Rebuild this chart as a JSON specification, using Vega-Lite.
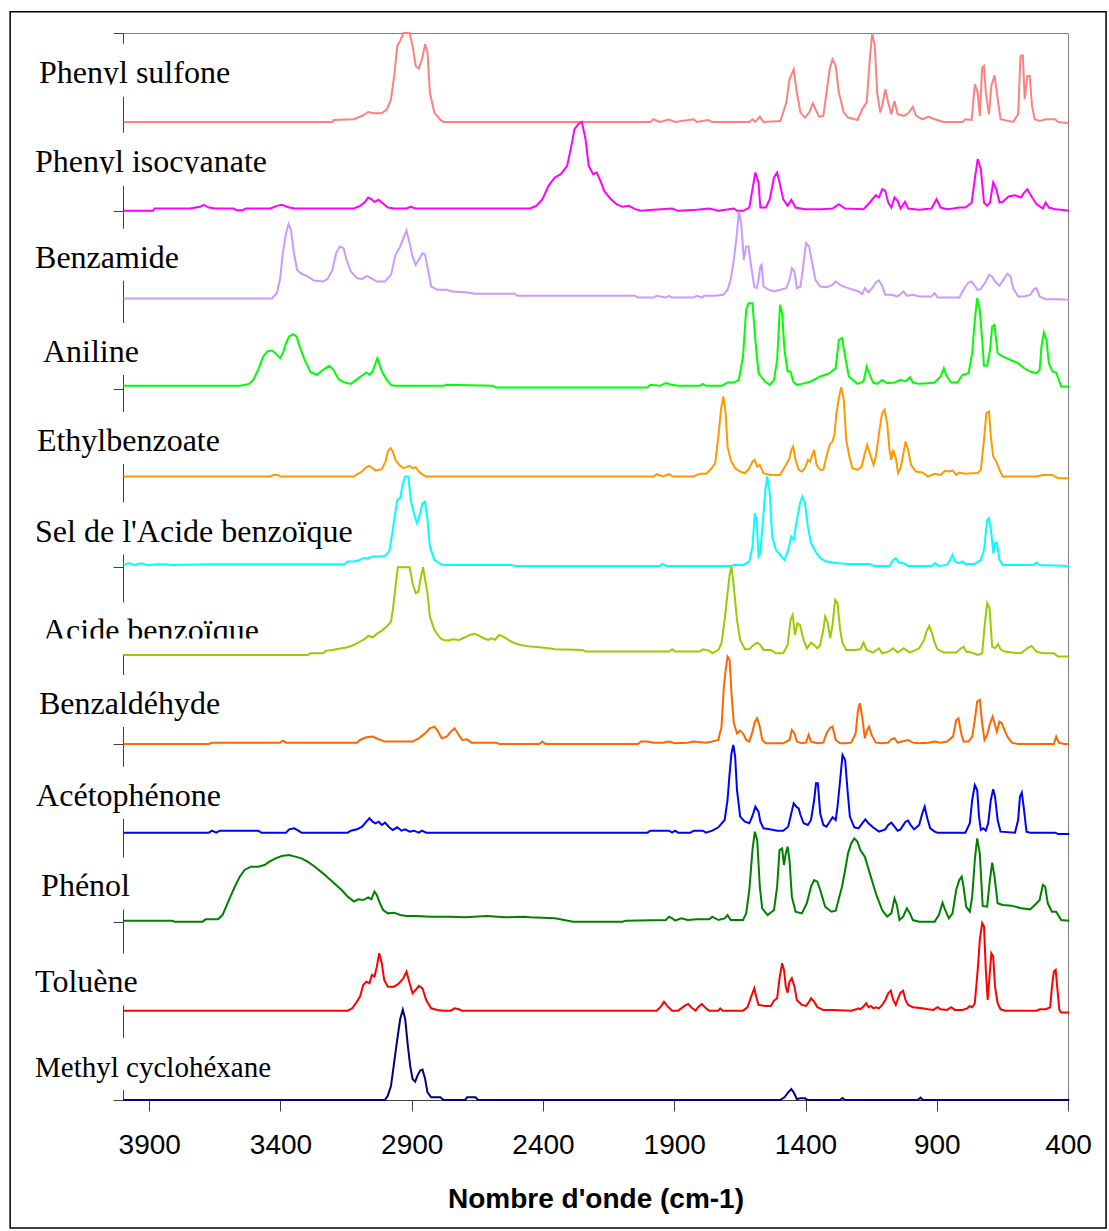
{
"$schema":"https://vega.github.io/schema/vega-lite/v6.json",
"width":945,"height":1067,
"autosize":{"type":"none"},
"padding":{"left":123,"top":33,"right":41,"bottom":131},
"background":"white",
"config":{"view":{"stroke":"#808080","strokeWidth":1}},
"datasets":{
"labels":[
{"name":"Phenyl sulfone","wn":4320,"abs":11.44},
{"name":"Phenyl isocyanate","wn":4335,"abs":10.44},
{"name":"Benzamide","wn":4335,"abs":9.36},
{"name":"Aniline","wn":4305,"abs":8.30},
{"name":"Ethylbenzoate","wn":4328,"abs":7.30},
{"name":"Sel de l'Acide benzoïque","wn":4335,"abs":6.28},
{"name":"Acide benzoïque","wn":4305,"abs":5.157},
{"name":"Benzaldéhyde","wn":4320,"abs":4.34},
{"name":"Acétophénone","wn":4331,"abs":3.31},
{"name":"Phénol","wn":4312,"abs":2.29},
{"name":"Toluène","wn":4335,"abs":1.21},
{"name":"Methyl cyclohéxane","wn":4335,"abs":0.26}
],
"spectra":[
{"name":"sulfone","wn":3998,"abs":11.0},{"name":"sulfone","wn":3202,"abs":11.0},{"name":"sulfone","wn":3198,"abs":11.022},{"name":"sulfone","wn":3120,"abs":11.03},{"name":"sulfone","wn":3085,"abs":11.075},{"name":"sulfone","wn":3066,"abs":11.112},{"name":"sulfone","wn":3042,"abs":11.097},{"name":"sulfone","wn":3014,"abs":11.097},{"name":"sulfone","wn":2995,"abs":11.142},{"name":"sulfone","wn":2979,"abs":11.255},{"name":"sulfone","wn":2967,"abs":11.517},{"name":"sulfone","wn":2955,"abs":11.855},{"name":"sulfone","wn":2944,"abs":11.911},{"name":"sulfone","wn":2932,"abs":12.0},{"name":"sulfone","wn":2908,"abs":12.0},{"name":"sulfone","wn":2897,"abs":11.855},{"name":"sulfone","wn":2885,"abs":11.63},{"name":"sulfone","wn":2873,"abs":11.6},{"name":"sulfone","wn":2861,"abs":11.705},{"name":"sulfone","wn":2849,"abs":11.874},{"name":"sulfone","wn":2840,"abs":11.78},{"name":"sulfone","wn":2831,"abs":11.33},{"name":"sulfone","wn":2814,"abs":11.105},{"name":"sulfone","wn":2791,"abs":11.022},{"name":"sulfone","wn":2779,"abs":11.0},{"name":"sulfone","wn":1991,"abs":11.0},{"name":"sulfone","wn":1979,"abs":11.03},{"name":"sulfone","wn":1955,"abs":11.0},{"name":"sulfone","wn":1920,"abs":11.026},{"name":"sulfone","wn":1897,"abs":11.0},{"name":"sulfone","wn":1826,"abs":11.03},{"name":"sulfone","wn":1814,"abs":11.0},{"name":"sulfone","wn":1772,"abs":11.022},{"name":"sulfone","wn":1755,"abs":11.0},{"name":"sulfone","wn":1614,"abs":11.0},{"name":"sulfone","wn":1602,"abs":11.03},{"name":"sulfone","wn":1591,"abs":11.0},{"name":"sulfone","wn":1574,"abs":11.06},{"name":"sulfone","wn":1560,"abs":11.0},{"name":"sulfone","wn":1496,"abs":11.011},{"name":"sulfone","wn":1473,"abs":11.217},{"name":"sulfone","wn":1461,"abs":11.48},{"name":"sulfone","wn":1445,"abs":11.592},{"name":"sulfone","wn":1433,"abs":11.33},{"name":"sulfone","wn":1419,"abs":11.105},{"name":"sulfone","wn":1402,"abs":11.049},{"name":"sulfone","wn":1386,"abs":11.105},{"name":"sulfone","wn":1372,"abs":11.21},{"name":"sulfone","wn":1362,"abs":11.142},{"name":"sulfone","wn":1348,"abs":11.06},{"name":"sulfone","wn":1332,"abs":11.067},{"name":"sulfone","wn":1320,"abs":11.33},{"name":"sulfone","wn":1308,"abs":11.592},{"name":"sulfone","wn":1297,"abs":11.705},{"name":"sulfone","wn":1285,"abs":11.63},{"name":"sulfone","wn":1273,"abs":11.33},{"name":"sulfone","wn":1254,"abs":11.105},{"name":"sulfone","wn":1238,"abs":11.049},{"name":"sulfone","wn":1202,"abs":11.022},{"name":"sulfone","wn":1184,"abs":11.142},{"name":"sulfone","wn":1167,"abs":11.217},{"name":"sulfone","wn":1155,"abs":11.705},{"name":"sulfone","wn":1146,"abs":11.997},{"name":"sulfone","wn":1136,"abs":11.855},{"name":"sulfone","wn":1127,"abs":11.33},{"name":"sulfone","wn":1115,"abs":11.105},{"name":"sulfone","wn":1108,"abs":11.18},{"name":"sulfone","wn":1096,"abs":11.367},{"name":"sulfone","wn":1085,"abs":11.217},{"name":"sulfone","wn":1073,"abs":11.086},{"name":"sulfone","wn":1061,"abs":11.236},{"name":"sulfone","wn":1049,"abs":11.086},{"name":"sulfone","wn":1026,"abs":11.067},{"name":"sulfone","wn":1009,"abs":11.097},{"name":"sulfone","wn":991,"abs":11.169},{"name":"sulfone","wn":979,"abs":11.075},{"name":"sulfone","wn":955,"abs":11.03},{"name":"sulfone","wn":932,"abs":11.06},{"name":"sulfone","wn":908,"abs":11.03},{"name":"sulfone","wn":873,"abs":11.0},{"name":"sulfone","wn":802,"abs":11.0},{"name":"sulfone","wn":791,"abs":11.03},{"name":"sulfone","wn":767,"abs":11.022},{"name":"sulfone","wn":755,"abs":11.424},{"name":"sulfone","wn":744,"abs":11.33},{"name":"sulfone","wn":736,"abs":11.067},{"name":"sulfone","wn":727,"abs":11.611},{"name":"sulfone","wn":720,"abs":11.63},{"name":"sulfone","wn":713,"abs":11.33},{"name":"sulfone","wn":701,"abs":11.086},{"name":"sulfone","wn":692,"abs":11.405},{"name":"sulfone","wn":680,"abs":11.525},{"name":"sulfone","wn":671,"abs":11.33},{"name":"sulfone","wn":657,"abs":11.03},{"name":"sulfone","wn":609,"abs":11.0},{"name":"sulfone","wn":590,"abs":11.086},{"name":"sulfone","wn":581,"abs":11.742},{"name":"sulfone","wn":572,"abs":11.75},{"name":"sulfone","wn":565,"abs":11.255},{"name":"sulfone","wn":555,"abs":11.517},{"name":"sulfone","wn":546,"abs":11.517},{"name":"sulfone","wn":537,"abs":11.18},{"name":"sulfone","wn":527,"abs":11.03},{"name":"sulfone","wn":508,"abs":11.011},{"name":"sulfone","wn":485,"abs":11.03},{"name":"sulfone","wn":449,"abs":11.03},{"name":"sulfone","wn":438,"abs":11.0},{"name":"sulfone","wn":395,"abs":10.985},
{"name":"isocyanate","wn":3998,"abs":10.0},{"name":"isocyanate","wn":3885,"abs":10.0},{"name":"isocyanate","wn":3880,"abs":10.026},{"name":"isocyanate","wn":3744,"abs":10.026},{"name":"isocyanate","wn":3708,"abs":10.045},{"name":"isocyanate","wn":3692,"abs":10.067},{"name":"isocyanate","wn":3673,"abs":10.037},{"name":"isocyanate","wn":3649,"abs":10.026},{"name":"isocyanate","wn":3579,"abs":10.026},{"name":"isocyanate","wn":3567,"abs":10.007},{"name":"isocyanate","wn":3544,"abs":10.007},{"name":"isocyanate","wn":3532,"abs":10.026},{"name":"isocyanate","wn":3438,"abs":10.026},{"name":"isocyanate","wn":3414,"abs":10.056},{"name":"isocyanate","wn":3395,"abs":10.067},{"name":"isocyanate","wn":3367,"abs":10.037},{"name":"isocyanate","wn":3344,"abs":10.026},{"name":"isocyanate","wn":3120,"abs":10.026},{"name":"isocyanate","wn":3097,"abs":10.056},{"name":"isocyanate","wn":3080,"abs":10.094},{"name":"isocyanate","wn":3066,"abs":10.15},{"name":"isocyanate","wn":3054,"abs":10.131},{"name":"isocyanate","wn":3042,"abs":10.101},{"name":"isocyanate","wn":3026,"abs":10.124},{"name":"isocyanate","wn":3014,"abs":10.094},{"name":"isocyanate","wn":2991,"abs":10.037},{"name":"isocyanate","wn":2967,"abs":10.026},{"name":"isocyanate","wn":2920,"abs":10.026},{"name":"isocyanate","wn":2904,"abs":10.045},{"name":"isocyanate","wn":2885,"abs":10.026},{"name":"isocyanate","wn":2449,"abs":10.026},{"name":"isocyanate","wn":2426,"abs":10.056},{"name":"isocyanate","wn":2402,"abs":10.131},{"name":"isocyanate","wn":2379,"abs":10.281},{"name":"isocyanate","wn":2355,"abs":10.375},{"name":"isocyanate","wn":2332,"abs":10.412},{"name":"isocyanate","wn":2308,"abs":10.506},{"name":"isocyanate","wn":2292,"abs":10.731},{"name":"isocyanate","wn":2280,"abs":10.919},{"name":"isocyanate","wn":2266,"abs":10.975},{"name":"isocyanate","wn":2252,"abs":11.001},{"name":"isocyanate","wn":2238,"abs":10.806},{"name":"isocyanate","wn":2226,"abs":10.506},{"name":"isocyanate","wn":2209,"abs":10.412},{"name":"isocyanate","wn":2195,"abs":10.431},{"name":"isocyanate","wn":2179,"abs":10.319},{"name":"isocyanate","wn":2167,"abs":10.225},{"name":"isocyanate","wn":2144,"abs":10.139},{"name":"isocyanate","wn":2120,"abs":10.075},{"name":"isocyanate","wn":2097,"abs":10.045},{"name":"isocyanate","wn":2073,"abs":10.056},{"name":"isocyanate","wn":2049,"abs":10.019},{"name":"isocyanate","wn":2026,"abs":10.0},{"name":"isocyanate","wn":1979,"abs":10.011},{"name":"isocyanate","wn":1908,"abs":10.026},{"name":"isocyanate","wn":1885,"abs":10.0},{"name":"isocyanate","wn":1814,"abs":10.011},{"name":"isocyanate","wn":1767,"abs":10.026},{"name":"isocyanate","wn":1732,"abs":10.0},{"name":"isocyanate","wn":1673,"abs":10.026},{"name":"isocyanate","wn":1661,"abs":10.0},{"name":"isocyanate","wn":1638,"abs":10.0},{"name":"isocyanate","wn":1614,"abs":10.037},{"name":"isocyanate","wn":1602,"abs":10.244},{"name":"isocyanate","wn":1591,"abs":10.431},{"name":"isocyanate","wn":1579,"abs":10.319},{"name":"isocyanate","wn":1572,"abs":10.037},{"name":"isocyanate","wn":1551,"abs":10.037},{"name":"isocyanate","wn":1536,"abs":10.131},{"name":"isocyanate","wn":1520,"abs":10.375},{"name":"isocyanate","wn":1508,"abs":10.431},{"name":"isocyanate","wn":1496,"abs":10.281},{"name":"isocyanate","wn":1485,"abs":10.131},{"name":"isocyanate","wn":1468,"abs":10.056},{"name":"isocyanate","wn":1454,"abs":10.124},{"name":"isocyanate","wn":1438,"abs":10.037},{"name":"isocyanate","wn":1402,"abs":10.019},{"name":"isocyanate","wn":1344,"abs":10.019},{"name":"isocyanate","wn":1297,"abs":10.026},{"name":"isocyanate","wn":1273,"abs":10.075},{"name":"isocyanate","wn":1249,"abs":10.026},{"name":"isocyanate","wn":1179,"abs":10.019},{"name":"isocyanate","wn":1155,"abs":10.094},{"name":"isocyanate","wn":1132,"abs":10.176},{"name":"isocyanate","wn":1120,"abs":10.15},{"name":"isocyanate","wn":1108,"abs":10.244},{"name":"isocyanate","wn":1096,"abs":10.225},{"name":"isocyanate","wn":1085,"abs":10.094},{"name":"isocyanate","wn":1073,"abs":10.037},{"name":"isocyanate","wn":1061,"abs":10.15},{"name":"isocyanate","wn":1049,"abs":10.112},{"name":"isocyanate","wn":1038,"abs":10.026},{"name":"isocyanate","wn":1021,"abs":10.101},{"name":"isocyanate","wn":1009,"abs":10.026},{"name":"isocyanate","wn":967,"abs":10.011},{"name":"isocyanate","wn":920,"abs":10.026},{"name":"isocyanate","wn":901,"abs":10.131},{"name":"isocyanate","wn":885,"abs":10.037},{"name":"isocyanate","wn":861,"abs":10.019},{"name":"isocyanate","wn":838,"abs":10.026},{"name":"isocyanate","wn":814,"abs":10.037},{"name":"isocyanate","wn":791,"abs":10.037},{"name":"isocyanate","wn":767,"abs":10.094},{"name":"isocyanate","wn":755,"abs":10.356},{"name":"isocyanate","wn":744,"abs":10.581},{"name":"isocyanate","wn":732,"abs":10.469},{"name":"isocyanate","wn":720,"abs":10.094},{"name":"isocyanate","wn":708,"abs":10.056},{"name":"isocyanate","wn":697,"abs":10.094},{"name":"isocyanate","wn":685,"abs":10.319},{"name":"isocyanate","wn":673,"abs":10.244},{"name":"isocyanate","wn":661,"abs":10.094},{"name":"isocyanate","wn":649,"abs":10.101},{"name":"isocyanate","wn":626,"abs":10.161},{"name":"isocyanate","wn":602,"abs":10.176},{"name":"isocyanate","wn":579,"abs":10.15},{"name":"isocyanate","wn":567,"abs":10.206},{"name":"isocyanate","wn":555,"abs":10.244},{"name":"isocyanate","wn":544,"abs":10.187},{"name":"isocyanate","wn":520,"abs":10.075},{"name":"isocyanate","wn":496,"abs":10.026},{"name":"isocyanate","wn":485,"abs":10.094},{"name":"isocyanate","wn":473,"abs":10.037},{"name":"isocyanate","wn":449,"abs":10.019},{"name":"isocyanate","wn":426,"abs":10.011},{"name":"isocyanate","wn":395,"abs":10.0},
{"name":"benzamide","wn":3998,"abs":9.014},{"name":"benzamide","wn":3433,"abs":9.014},{"name":"benzamide","wn":3414,"abs":9.074},{"name":"benzamide","wn":3402,"abs":9.224},{"name":"benzamide","wn":3391,"abs":9.524},{"name":"benzamide","wn":3379,"abs":9.749},{"name":"benzamide","wn":3369,"abs":9.854},{"name":"benzamide","wn":3360,"abs":9.787},{"name":"benzamide","wn":3351,"abs":9.562},{"name":"benzamide","wn":3337,"abs":9.337},{"name":"benzamide","wn":3320,"abs":9.292},{"name":"benzamide","wn":3297,"abs":9.262},{"name":"benzamide","wn":3273,"abs":9.217},{"name":"benzamide","wn":3238,"abs":9.205},{"name":"benzamide","wn":3221,"abs":9.232},{"name":"benzamide","wn":3202,"abs":9.337},{"name":"benzamide","wn":3188,"abs":9.524},{"name":"benzamide","wn":3174,"abs":9.599},{"name":"benzamide","wn":3160,"abs":9.58},{"name":"benzamide","wn":3148,"abs":9.449},{"name":"benzamide","wn":3132,"abs":9.318},{"name":"benzamide","wn":3108,"abs":9.243},{"name":"benzamide","wn":3089,"abs":9.232},{"name":"benzamide","wn":3071,"abs":9.269},{"name":"benzamide","wn":3049,"abs":9.232},{"name":"benzamide","wn":3033,"abs":9.205},{"name":"benzamide","wn":3002,"abs":9.205},{"name":"benzamide","wn":2979,"abs":9.28},{"name":"benzamide","wn":2962,"abs":9.505},{"name":"benzamide","wn":2944,"abs":9.599},{"name":"benzamide","wn":2929,"abs":9.712},{"name":"benzamide","wn":2920,"abs":9.779},{"name":"benzamide","wn":2908,"abs":9.637},{"name":"benzamide","wn":2897,"abs":9.487},{"name":"benzamide","wn":2885,"abs":9.393},{"name":"benzamide","wn":2873,"abs":9.449},{"name":"benzamide","wn":2859,"abs":9.524},{"name":"benzamide","wn":2849,"abs":9.505},{"name":"benzamide","wn":2838,"abs":9.337},{"name":"benzamide","wn":2826,"abs":9.149},{"name":"benzamide","wn":2802,"abs":9.112},{"name":"benzamide","wn":2767,"abs":9.112},{"name":"benzamide","wn":2744,"abs":9.093},{"name":"benzamide","wn":2685,"abs":9.082},{"name":"benzamide","wn":2661,"abs":9.067},{"name":"benzamide","wn":2508,"abs":9.067},{"name":"benzamide","wn":2497,"abs":9.044},{"name":"benzamide","wn":2049,"abs":9.044},{"name":"benzamide","wn":2038,"abs":9.025},{"name":"benzamide","wn":1979,"abs":9.025},{"name":"benzamide","wn":1967,"abs":9.044},{"name":"benzamide","wn":1932,"abs":9.025},{"name":"benzamide","wn":1920,"abs":9.044},{"name":"benzamide","wn":1908,"abs":9.025},{"name":"benzamide","wn":1826,"abs":9.025},{"name":"benzamide","wn":1814,"abs":9.044},{"name":"benzamide","wn":1795,"abs":9.025},{"name":"benzamide","wn":1786,"abs":9.044},{"name":"benzamide","wn":1744,"abs":9.044},{"name":"benzamide","wn":1713,"abs":9.055},{"name":"benzamide","wn":1697,"abs":9.112},{"name":"benzamide","wn":1685,"abs":9.224},{"name":"benzamide","wn":1673,"abs":9.449},{"name":"benzamide","wn":1661,"abs":9.749},{"name":"benzamide","wn":1654,"abs":9.993},{"name":"benzamide","wn":1645,"abs":9.862},{"name":"benzamide","wn":1635,"abs":9.449},{"name":"benzamide","wn":1626,"abs":9.599},{"name":"benzamide","wn":1617,"abs":9.599},{"name":"benzamide","wn":1607,"abs":9.374},{"name":"benzamide","wn":1595,"abs":9.142},{"name":"benzamide","wn":1586,"abs":9.13},{"name":"benzamide","wn":1579,"abs":9.224},{"name":"benzamide","wn":1572,"abs":9.374},{"name":"benzamide","wn":1567,"abs":9.393},{"name":"benzamide","wn":1560,"abs":9.149},{"name":"benzamide","wn":1544,"abs":9.119},{"name":"benzamide","wn":1520,"abs":9.093},{"name":"benzamide","wn":1497,"abs":9.112},{"name":"benzamide","wn":1473,"abs":9.13},{"name":"benzamide","wn":1461,"abs":9.224},{"name":"benzamide","wn":1452,"abs":9.355},{"name":"benzamide","wn":1442,"abs":9.318},{"name":"benzamide","wn":1433,"abs":9.13},{"name":"benzamide","wn":1419,"abs":9.149},{"name":"benzamide","wn":1409,"abs":9.374},{"name":"benzamide","wn":1398,"abs":9.637},{"name":"benzamide","wn":1386,"abs":9.599},{"name":"benzamide","wn":1372,"abs":9.374},{"name":"benzamide","wn":1362,"abs":9.224},{"name":"benzamide","wn":1344,"abs":9.149},{"name":"benzamide","wn":1320,"abs":9.142},{"name":"benzamide","wn":1297,"abs":9.168},{"name":"benzamide","wn":1285,"abs":9.205},{"name":"benzamide","wn":1268,"abs":9.168},{"name":"benzamide","wn":1249,"abs":9.142},{"name":"benzamide","wn":1226,"abs":9.119},{"name":"benzamide","wn":1198,"abs":9.093},{"name":"benzamide","wn":1184,"abs":9.063},{"name":"benzamide","wn":1174,"abs":9.13},{"name":"benzamide","wn":1160,"abs":9.082},{"name":"benzamide","wn":1143,"abs":9.142},{"name":"benzamide","wn":1132,"abs":9.194},{"name":"benzamide","wn":1120,"abs":9.217},{"name":"benzamide","wn":1108,"abs":9.157},{"name":"benzamide","wn":1096,"abs":9.055},{"name":"benzamide","wn":1073,"abs":9.055},{"name":"benzamide","wn":1049,"abs":9.037},{"name":"benzamide","wn":1026,"abs":9.093},{"name":"benzamide","wn":1014,"abs":9.044},{"name":"benzamide","wn":991,"abs":9.055},{"name":"benzamide","wn":967,"abs":9.037},{"name":"benzamide","wn":920,"abs":9.037},{"name":"benzamide","wn":908,"abs":9.074},{"name":"benzamide","wn":897,"abs":9.025},{"name":"benzamide","wn":814,"abs":9.025},{"name":"benzamide","wn":791,"abs":9.149},{"name":"benzamide","wn":779,"abs":9.194},{"name":"benzamide","wn":767,"abs":9.205},{"name":"benzamide","wn":755,"abs":9.157},{"name":"benzamide","wn":744,"abs":9.112},{"name":"benzamide","wn":732,"abs":9.119},{"name":"benzamide","wn":713,"abs":9.205},{"name":"benzamide","wn":701,"abs":9.28},{"name":"benzamide","wn":689,"abs":9.262},{"name":"benzamide","wn":678,"abs":9.205},{"name":"benzamide","wn":661,"abs":9.157},{"name":"benzamide","wn":642,"abs":9.243},{"name":"benzamide","wn":631,"abs":9.292},{"name":"benzamide","wn":619,"abs":9.262},{"name":"benzamide","wn":609,"abs":9.13},{"name":"benzamide","wn":590,"abs":9.037},{"name":"benzamide","wn":567,"abs":9.037},{"name":"benzamide","wn":544,"abs":9.055},{"name":"benzamide","wn":529,"abs":9.119},{"name":"benzamide","wn":520,"abs":9.13},{"name":"benzamide","wn":508,"abs":9.037},{"name":"benzamide","wn":485,"abs":9.007},{"name":"benzamide","wn":438,"abs":9.007},{"name":"benzamide","wn":395,"abs":8.999},
{"name":"aniline","wn":3998,"abs":8.032},{"name":"aniline","wn":3555,"abs":8.032},{"name":"aniline","wn":3520,"abs":8.054},{"name":"aniline","wn":3504,"abs":8.099},{"name":"aniline","wn":3485,"abs":8.212},{"name":"aniline","wn":3466,"abs":8.362},{"name":"aniline","wn":3450,"abs":8.418},{"name":"aniline","wn":3433,"abs":8.429},{"name":"aniline","wn":3419,"abs":8.399},{"name":"aniline","wn":3402,"abs":8.343},{"name":"aniline","wn":3391,"abs":8.399},{"name":"aniline","wn":3379,"abs":8.512},{"name":"aniline","wn":3367,"abs":8.587},{"name":"aniline","wn":3353,"abs":8.613},{"name":"aniline","wn":3339,"abs":8.587},{"name":"aniline","wn":3325,"abs":8.455},{"name":"aniline","wn":3308,"abs":8.324},{"name":"aniline","wn":3285,"abs":8.182},{"name":"aniline","wn":3261,"abs":8.156},{"name":"aniline","wn":3238,"abs":8.212},{"name":"aniline","wn":3214,"abs":8.257},{"name":"aniline","wn":3198,"abs":8.212},{"name":"aniline","wn":3179,"abs":8.107},{"name":"aniline","wn":3155,"abs":8.069},{"name":"aniline","wn":3132,"abs":8.054},{"name":"aniline","wn":3108,"abs":8.107},{"name":"aniline","wn":3085,"abs":8.156},{"name":"aniline","wn":3073,"abs":8.182},{"name":"aniline","wn":3061,"abs":8.156},{"name":"aniline","wn":3049,"abs":8.193},{"name":"aniline","wn":3038,"abs":8.287},{"name":"aniline","wn":3031,"abs":8.343},{"name":"aniline","wn":3024,"abs":8.287},{"name":"aniline","wn":3014,"abs":8.193},{"name":"aniline","wn":2995,"abs":8.099},{"name":"aniline","wn":2979,"abs":8.043},{"name":"aniline","wn":2967,"abs":8.032},{"name":"aniline","wn":2779,"abs":8.032},{"name":"aniline","wn":2767,"abs":8.043},{"name":"aniline","wn":2591,"abs":8.032},{"name":"aniline","wn":2579,"abs":8.013},{"name":"aniline","wn":2002,"abs":8.013},{"name":"aniline","wn":1991,"abs":8.043},{"name":"aniline","wn":1955,"abs":8.032},{"name":"aniline","wn":1932,"abs":8.062},{"name":"aniline","wn":1908,"abs":8.043},{"name":"aniline","wn":1885,"abs":8.032},{"name":"aniline","wn":1802,"abs":8.032},{"name":"aniline","wn":1791,"abs":8.054},{"name":"aniline","wn":1779,"abs":8.032},{"name":"aniline","wn":1720,"abs":8.032},{"name":"aniline","wn":1697,"abs":8.069},{"name":"aniline","wn":1673,"abs":8.069},{"name":"aniline","wn":1654,"abs":8.099},{"name":"aniline","wn":1638,"abs":8.362},{"name":"aniline","wn":1626,"abs":8.887},{"name":"aniline","wn":1617,"abs":8.962},{"name":"aniline","wn":1602,"abs":8.962},{"name":"aniline","wn":1591,"abs":8.549},{"name":"aniline","wn":1579,"abs":8.174},{"name":"aniline","wn":1555,"abs":8.081},{"name":"aniline","wn":1536,"abs":8.043},{"name":"aniline","wn":1520,"abs":8.099},{"name":"aniline","wn":1508,"abs":8.324},{"name":"aniline","wn":1497,"abs":8.943},{"name":"aniline","wn":1489,"abs":8.849},{"name":"aniline","wn":1480,"abs":8.437},{"name":"aniline","wn":1468,"abs":8.193},{"name":"aniline","wn":1457,"abs":8.193},{"name":"aniline","wn":1447,"abs":8.081},{"name":"aniline","wn":1433,"abs":8.043},{"name":"aniline","wn":1414,"abs":8.054},{"name":"aniline","wn":1379,"abs":8.081},{"name":"aniline","wn":1344,"abs":8.137},{"name":"aniline","wn":1308,"abs":8.174},{"name":"aniline","wn":1285,"abs":8.231},{"name":"aniline","wn":1273,"abs":8.549},{"name":"aniline","wn":1261,"abs":8.568},{"name":"aniline","wn":1249,"abs":8.362},{"name":"aniline","wn":1235,"abs":8.137},{"name":"aniline","wn":1202,"abs":8.054},{"name":"aniline","wn":1179,"abs":8.081},{"name":"aniline","wn":1167,"abs":8.249},{"name":"aniline","wn":1160,"abs":8.193},{"name":"aniline","wn":1143,"abs":8.069},{"name":"aniline","wn":1127,"abs":8.054},{"name":"aniline","wn":1108,"abs":8.099},{"name":"aniline","wn":1089,"abs":8.062},{"name":"aniline","wn":1061,"abs":8.069},{"name":"aniline","wn":1038,"abs":8.099},{"name":"aniline","wn":1019,"abs":8.081},{"name":"aniline","wn":1002,"abs":8.129},{"name":"aniline","wn":991,"abs":8.069},{"name":"aniline","wn":967,"abs":8.054},{"name":"aniline","wn":932,"abs":8.062},{"name":"aniline","wn":908,"abs":8.069},{"name":"aniline","wn":885,"abs":8.137},{"name":"aniline","wn":873,"abs":8.231},{"name":"aniline","wn":861,"abs":8.137},{"name":"aniline","wn":845,"abs":8.069},{"name":"aniline","wn":821,"abs":8.069},{"name":"aniline","wn":802,"abs":8.156},{"name":"aniline","wn":779,"abs":8.174},{"name":"aniline","wn":765,"abs":8.399},{"name":"aniline","wn":755,"abs":8.774},{"name":"aniline","wn":746,"abs":9.018},{"name":"aniline","wn":736,"abs":8.887},{"name":"aniline","wn":727,"abs":8.549},{"name":"aniline","wn":720,"abs":8.257},{"name":"aniline","wn":708,"abs":8.257},{"name":"aniline","wn":697,"abs":8.437},{"name":"aniline","wn":689,"abs":8.699},{"name":"aniline","wn":680,"abs":8.718},{"name":"aniline","wn":668,"abs":8.399},{"name":"aniline","wn":649,"abs":8.362},{"name":"aniline","wn":614,"abs":8.317},{"name":"aniline","wn":590,"abs":8.287},{"name":"aniline","wn":567,"abs":8.231},{"name":"aniline","wn":544,"abs":8.193},{"name":"aniline","wn":520,"abs":8.174},{"name":"aniline","wn":508,"abs":8.212},{"name":"aniline","wn":501,"abs":8.474},{"name":"aniline","wn":492,"abs":8.632},{"name":"aniline","wn":482,"abs":8.549},{"name":"aniline","wn":473,"abs":8.287},{"name":"aniline","wn":459,"abs":8.193},{"name":"aniline","wn":445,"abs":8.182},{"name":"aniline","wn":426,"abs":8.024},{"name":"aniline","wn":395,"abs":8.024},
{"name":"ethylbenzoate","wn":3998,"abs":7.012},{"name":"ethylbenzoate","wn":3438,"abs":7.012},{"name":"ethylbenzoate","wn":3426,"abs":7.03},{"name":"ethylbenzoate","wn":3410,"abs":7.03},{"name":"ethylbenzoate","wn":3400,"abs":7.012},{"name":"ethylbenzoate","wn":3120,"abs":7.012},{"name":"ethylbenzoate","wn":3108,"abs":7.038},{"name":"ethylbenzoate","wn":3089,"abs":7.068},{"name":"ethylbenzoate","wn":3073,"abs":7.117},{"name":"ethylbenzoate","wn":3061,"abs":7.132},{"name":"ethylbenzoate","wn":3049,"abs":7.105},{"name":"ethylbenzoate","wn":3038,"abs":7.079},{"name":"ethylbenzoate","wn":3014,"abs":7.094},{"name":"ethylbenzoate","wn":3000,"abs":7.18},{"name":"ethylbenzoate","wn":2991,"abs":7.293},{"name":"ethylbenzoate","wn":2981,"abs":7.33},{"name":"ethylbenzoate","wn":2972,"abs":7.293},{"name":"ethylbenzoate","wn":2962,"abs":7.199},{"name":"ethylbenzoate","wn":2948,"abs":7.143},{"name":"ethylbenzoate","wn":2932,"abs":7.105},{"name":"ethylbenzoate","wn":2920,"abs":7.117},{"name":"ethylbenzoate","wn":2908,"abs":7.132},{"name":"ethylbenzoate","wn":2897,"abs":7.105},{"name":"ethylbenzoate","wn":2885,"abs":7.117},{"name":"ethylbenzoate","wn":2873,"abs":7.068},{"name":"ethylbenzoate","wn":2861,"abs":7.038},{"name":"ethylbenzoate","wn":2845,"abs":7.012},{"name":"ethylbenzoate","wn":1979,"abs":7.012},{"name":"ethylbenzoate","wn":1967,"abs":7.038},{"name":"ethylbenzoate","wn":1944,"abs":7.012},{"name":"ethylbenzoate","wn":1920,"abs":7.038},{"name":"ethylbenzoate","wn":1904,"abs":7.012},{"name":"ethylbenzoate","wn":1826,"abs":7.012},{"name":"ethylbenzoate","wn":1802,"abs":7.042},{"name":"ethylbenzoate","wn":1779,"abs":7.042},{"name":"ethylbenzoate","wn":1762,"abs":7.087},{"name":"ethylbenzoate","wn":1744,"abs":7.162},{"name":"ethylbenzoate","wn":1732,"abs":7.462},{"name":"ethylbenzoate","wn":1722,"abs":7.762},{"name":"ethylbenzoate","wn":1713,"abs":7.912},{"name":"ethylbenzoate","wn":1704,"abs":7.724},{"name":"ethylbenzoate","wn":1697,"abs":7.349},{"name":"ethylbenzoate","wn":1685,"abs":7.199},{"name":"ethylbenzoate","wn":1668,"abs":7.105},{"name":"ethylbenzoate","wn":1649,"abs":7.068},{"name":"ethylbenzoate","wn":1631,"abs":7.049},{"name":"ethylbenzoate","wn":1614,"abs":7.105},{"name":"ethylbenzoate","wn":1602,"abs":7.18},{"name":"ethylbenzoate","wn":1593,"abs":7.199},{"name":"ethylbenzoate","wn":1584,"abs":7.124},{"name":"ethylbenzoate","wn":1574,"abs":7.143},{"name":"ethylbenzoate","wn":1560,"abs":7.049},{"name":"ethylbenzoate","wn":1536,"abs":7.03},{"name":"ethylbenzoate","wn":1497,"abs":7.03},{"name":"ethylbenzoate","wn":1478,"abs":7.124},{"name":"ethylbenzoate","wn":1461,"abs":7.218},{"name":"ethylbenzoate","wn":1454,"abs":7.312},{"name":"ethylbenzoate","wn":1447,"abs":7.349},{"name":"ethylbenzoate","wn":1438,"abs":7.199},{"name":"ethylbenzoate","wn":1426,"abs":7.087},{"name":"ethylbenzoate","wn":1414,"abs":7.068},{"name":"ethylbenzoate","wn":1402,"abs":7.105},{"name":"ethylbenzoate","wn":1391,"abs":7.199},{"name":"ethylbenzoate","wn":1383,"abs":7.18},{"name":"ethylbenzoate","wn":1374,"abs":7.255},{"name":"ethylbenzoate","wn":1367,"abs":7.312},{"name":"ethylbenzoate","wn":1358,"abs":7.143},{"name":"ethylbenzoate","wn":1344,"abs":7.087},{"name":"ethylbenzoate","wn":1332,"abs":7.087},{"name":"ethylbenzoate","wn":1320,"abs":7.237},{"name":"ethylbenzoate","wn":1308,"abs":7.368},{"name":"ethylbenzoate","wn":1297,"abs":7.405},{"name":"ethylbenzoate","wn":1289,"abs":7.499},{"name":"ethylbenzoate","wn":1282,"abs":7.724},{"name":"ethylbenzoate","wn":1273,"abs":7.893},{"name":"ethylbenzoate","wn":1264,"abs":8.017},{"name":"ethylbenzoate","wn":1254,"abs":7.874},{"name":"ethylbenzoate","wn":1245,"abs":7.424},{"name":"ethylbenzoate","wn":1233,"abs":7.237},{"name":"ethylbenzoate","wn":1221,"abs":7.105},{"name":"ethylbenzoate","wn":1202,"abs":7.087},{"name":"ethylbenzoate","wn":1186,"abs":7.124},{"name":"ethylbenzoate","wn":1174,"abs":7.274},{"name":"ethylbenzoate","wn":1165,"abs":7.368},{"name":"ethylbenzoate","wn":1155,"abs":7.274},{"name":"ethylbenzoate","wn":1141,"abs":7.143},{"name":"ethylbenzoate","wn":1132,"abs":7.237},{"name":"ethylbenzoate","wn":1120,"abs":7.499},{"name":"ethylbenzoate","wn":1108,"abs":7.724},{"name":"ethylbenzoate","wn":1099,"abs":7.762},{"name":"ethylbenzoate","wn":1089,"abs":7.612},{"name":"ethylbenzoate","wn":1080,"abs":7.312},{"name":"ethylbenzoate","wn":1073,"abs":7.199},{"name":"ethylbenzoate","wn":1066,"abs":7.312},{"name":"ethylbenzoate","wn":1056,"abs":7.218},{"name":"ethylbenzoate","wn":1047,"abs":7.049},{"name":"ethylbenzoate","wn":1038,"abs":7.105},{"name":"ethylbenzoate","wn":1028,"abs":7.255},{"name":"ethylbenzoate","wn":1019,"abs":7.405},{"name":"ethylbenzoate","wn":1009,"abs":7.312},{"name":"ethylbenzoate","wn":998,"abs":7.143},{"name":"ethylbenzoate","wn":979,"abs":7.068},{"name":"ethylbenzoate","wn":955,"abs":7.057},{"name":"ethylbenzoate","wn":932,"abs":7.012},{"name":"ethylbenzoate","wn":908,"abs":7.042},{"name":"ethylbenzoate","wn":885,"abs":7.03},{"name":"ethylbenzoate","wn":868,"abs":7.079},{"name":"ethylbenzoate","wn":854,"abs":7.068},{"name":"ethylbenzoate","wn":838,"abs":7.079},{"name":"ethylbenzoate","wn":826,"abs":7.03},{"name":"ethylbenzoate","wn":814,"abs":7.057},{"name":"ethylbenzoate","wn":791,"abs":7.042},{"name":"ethylbenzoate","wn":767,"abs":7.049},{"name":"ethylbenzoate","wn":744,"abs":7.049},{"name":"ethylbenzoate","wn":732,"abs":7.087},{"name":"ethylbenzoate","wn":720,"abs":7.424},{"name":"ethylbenzoate","wn":711,"abs":7.724},{"name":"ethylbenzoate","wn":701,"abs":7.743},{"name":"ethylbenzoate","wn":694,"abs":7.462},{"name":"ethylbenzoate","wn":685,"abs":7.237},{"name":"ethylbenzoate","wn":673,"abs":7.18},{"name":"ethylbenzoate","wn":661,"abs":7.087},{"name":"ethylbenzoate","wn":649,"abs":7.012},{"name":"ethylbenzoate","wn":520,"abs":7.012},{"name":"ethylbenzoate","wn":496,"abs":7.03},{"name":"ethylbenzoate","wn":461,"abs":7.03},{"name":"ethylbenzoate","wn":438,"abs":6.993},{"name":"ethylbenzoate","wn":395,"abs":6.993},
{"name":"sel","wn":3998,"abs":6.018},{"name":"sel","wn":3979,"abs":6.037},{"name":"sel","wn":3955,"abs":6.018},{"name":"sel","wn":3932,"abs":6.037},{"name":"sel","wn":3908,"abs":6.018},{"name":"sel","wn":3861,"abs":6.026},{"name":"sel","wn":3838,"abs":6.026},{"name":"sel","wn":3814,"abs":6.018},{"name":"sel","wn":3673,"abs":6.026},{"name":"sel","wn":3155,"abs":6.026},{"name":"sel","wn":3144,"abs":6.056},{"name":"sel","wn":3120,"abs":6.056},{"name":"sel","wn":3097,"abs":6.074},{"name":"sel","wn":3085,"abs":6.093},{"name":"sel","wn":3066,"abs":6.093},{"name":"sel","wn":3049,"abs":6.112},{"name":"sel","wn":3026,"abs":6.112},{"name":"sel","wn":3002,"abs":6.119},{"name":"sel","wn":2986,"abs":6.168},{"name":"sel","wn":2976,"abs":6.337},{"name":"sel","wn":2967,"abs":6.524},{"name":"sel","wn":2955,"abs":6.749},{"name":"sel","wn":2944,"abs":6.768},{"name":"sel","wn":2934,"abs":6.937},{"name":"sel","wn":2925,"abs":7.012},{"name":"sel","wn":2913,"abs":7.012},{"name":"sel","wn":2904,"abs":6.749},{"name":"sel","wn":2892,"abs":6.599},{"name":"sel","wn":2880,"abs":6.487},{"name":"sel","wn":2868,"abs":6.599},{"name":"sel","wn":2859,"abs":6.712},{"name":"sel","wn":2849,"abs":6.73},{"name":"sel","wn":2840,"abs":6.524},{"name":"sel","wn":2831,"abs":6.224},{"name":"sel","wn":2814,"abs":6.074},{"name":"sel","wn":2791,"abs":6.029},{"name":"sel","wn":2779,"abs":6.018},{"name":"sel","wn":2520,"abs":6.018},{"name":"sel","wn":2508,"abs":6.007},{"name":"sel","wn":1955,"abs":6.007},{"name":"sel","wn":1944,"abs":6.029},{"name":"sel","wn":1932,"abs":6.007},{"name":"sel","wn":1685,"abs":6.007},{"name":"sel","wn":1673,"abs":6.018},{"name":"sel","wn":1638,"abs":6.018},{"name":"sel","wn":1614,"abs":6.056},{"name":"sel","wn":1602,"abs":6.224},{"name":"sel","wn":1593,"abs":6.599},{"name":"sel","wn":1586,"abs":6.524},{"name":"sel","wn":1579,"abs":6.112},{"name":"sel","wn":1572,"abs":6.149},{"name":"sel","wn":1562,"abs":6.524},{"name":"sel","wn":1553,"abs":6.862},{"name":"sel","wn":1546,"abs":7.012},{"name":"sel","wn":1536,"abs":6.824},{"name":"sel","wn":1527,"abs":6.337},{"name":"sel","wn":1513,"abs":6.187},{"name":"sel","wn":1497,"abs":6.13},{"name":"sel","wn":1480,"abs":6.074},{"name":"sel","wn":1466,"abs":6.187},{"name":"sel","wn":1454,"abs":6.337},{"name":"sel","wn":1445,"abs":6.299},{"name":"sel","wn":1433,"abs":6.524},{"name":"sel","wn":1421,"abs":6.712},{"name":"sel","wn":1412,"abs":6.787},{"name":"sel","wn":1402,"abs":6.712},{"name":"sel","wn":1391,"abs":6.449},{"name":"sel","wn":1379,"abs":6.262},{"name":"sel","wn":1362,"abs":6.168},{"name":"sel","wn":1344,"abs":6.093},{"name":"sel","wn":1320,"abs":6.056},{"name":"sel","wn":1273,"abs":6.037},{"name":"sel","wn":1238,"abs":6.029},{"name":"sel","wn":1155,"abs":6.029},{"name":"sel","wn":1139,"abs":6.007},{"name":"sel","wn":1080,"abs":6.007},{"name":"sel","wn":1066,"abs":6.074},{"name":"sel","wn":1056,"abs":6.093},{"name":"sel","wn":1045,"abs":6.044},{"name":"sel","wn":1026,"abs":6.037},{"name":"sel","wn":1009,"abs":6.007},{"name":"sel","wn":920,"abs":6.007},{"name":"sel","wn":906,"abs":6.037},{"name":"sel","wn":892,"abs":6.007},{"name":"sel","wn":861,"abs":6.018},{"name":"sel","wn":849,"abs":6.074},{"name":"sel","wn":840,"abs":6.13},{"name":"sel","wn":831,"abs":6.056},{"name":"sel","wn":814,"abs":6.037},{"name":"sel","wn":802,"abs":6.056},{"name":"sel","wn":791,"abs":6.029},{"name":"sel","wn":755,"abs":6.029},{"name":"sel","wn":732,"abs":6.074},{"name":"sel","wn":720,"abs":6.187},{"name":"sel","wn":708,"abs":6.524},{"name":"sel","wn":701,"abs":6.543},{"name":"sel","wn":692,"abs":6.374},{"name":"sel","wn":685,"abs":6.149},{"name":"sel","wn":678,"abs":6.262},{"name":"sel","wn":671,"abs":6.269},{"name":"sel","wn":661,"abs":6.074},{"name":"sel","wn":649,"abs":6.018},{"name":"sel","wn":532,"abs":6.018},{"name":"sel","wn":520,"abs":6.044},{"name":"sel","wn":508,"abs":6.018},{"name":"sel","wn":395,"abs":6.007},
{"name":"acide","wn":3998,"abs":5.005},{"name":"acide","wn":3297,"abs":5.005},{"name":"acide","wn":3285,"abs":5.024},{"name":"acide","wn":3238,"abs":5.024},{"name":"acide","wn":3226,"abs":5.054},{"name":"acide","wn":3202,"abs":5.062},{"name":"acide","wn":3167,"abs":5.08},{"name":"acide","wn":3144,"abs":5.092},{"name":"acide","wn":3120,"abs":5.118},{"name":"acide","wn":3097,"abs":5.155},{"name":"acide","wn":3080,"abs":5.182},{"name":"acide","wn":3066,"abs":5.219},{"name":"acide","wn":3049,"abs":5.204},{"name":"acide","wn":3033,"abs":5.242},{"name":"acide","wn":3014,"abs":5.279},{"name":"acide","wn":2995,"abs":5.324},{"name":"acide","wn":2979,"abs":5.38},{"name":"acide","wn":2972,"abs":5.512},{"name":"acide","wn":2962,"abs":5.774},{"name":"acide","wn":2953,"abs":5.992},{"name":"acide","wn":2908,"abs":5.992},{"name":"acide","wn":2897,"abs":5.812},{"name":"acide","wn":2885,"abs":5.699},{"name":"acide","wn":2875,"abs":5.718},{"name":"acide","wn":2866,"abs":5.868},{"name":"acide","wn":2857,"abs":5.992},{"name":"acide","wn":2849,"abs":5.849},{"name":"acide","wn":2840,"abs":5.699},{"name":"acide","wn":2831,"abs":5.437},{"name":"acide","wn":2814,"abs":5.287},{"name":"acide","wn":2791,"abs":5.193},{"name":"acide","wn":2779,"abs":5.174},{"name":"acide","wn":2760,"abs":5.167},{"name":"acide","wn":2744,"abs":5.182},{"name":"acide","wn":2720,"abs":5.174},{"name":"acide","wn":2697,"abs":5.204},{"name":"acide","wn":2680,"abs":5.23},{"name":"acide","wn":2661,"abs":5.242},{"name":"acide","wn":2642,"abs":5.219},{"name":"acide","wn":2626,"abs":5.193},{"name":"acide","wn":2609,"abs":5.174},{"name":"acide","wn":2595,"abs":5.193},{"name":"acide","wn":2584,"abs":5.174},{"name":"acide","wn":2567,"abs":5.23},{"name":"acide","wn":2551,"abs":5.212},{"name":"acide","wn":2532,"abs":5.174},{"name":"acide","wn":2508,"abs":5.137},{"name":"acide","wn":2485,"abs":5.118},{"name":"acide","wn":2449,"abs":5.099},{"name":"acide","wn":2414,"abs":5.092},{"name":"acide","wn":2379,"abs":5.08},{"name":"acide","wn":2355,"abs":5.069},{"name":"acide","wn":2249,"abs":5.062},{"name":"acide","wn":2238,"abs":5.043},{"name":"acide","wn":1920,"abs":5.043},{"name":"acide","wn":1908,"abs":5.069},{"name":"acide","wn":1897,"abs":5.043},{"name":"acide","wn":1802,"abs":5.043},{"name":"acide","wn":1791,"abs":5.069},{"name":"acide","wn":1767,"abs":5.054},{"name":"acide","wn":1755,"abs":5.024},{"name":"acide","wn":1732,"abs":5.062},{"name":"acide","wn":1720,"abs":5.137},{"name":"acide","wn":1708,"abs":5.399},{"name":"acide","wn":1697,"abs":5.699},{"name":"acide","wn":1689,"abs":5.905},{"name":"acide","wn":1682,"abs":6.0},{"name":"acide","wn":1673,"abs":5.774},{"name":"acide","wn":1661,"abs":5.399},{"name":"acide","wn":1649,"abs":5.174},{"name":"acide","wn":1631,"abs":5.069},{"name":"acide","wn":1614,"abs":5.069},{"name":"acide","wn":1598,"abs":5.118},{"name":"acide","wn":1584,"abs":5.144},{"name":"acide","wn":1572,"abs":5.118},{"name":"acide","wn":1560,"abs":5.062},{"name":"acide","wn":1532,"abs":5.062},{"name":"acide","wn":1513,"abs":5.024},{"name":"acide","wn":1485,"abs":5.024},{"name":"acide","wn":1468,"abs":5.118},{"name":"acide","wn":1457,"abs":5.399},{"name":"acide","wn":1449,"abs":5.455},{"name":"acide","wn":1440,"abs":5.23},{"name":"acide","wn":1431,"abs":5.362},{"name":"acide","wn":1421,"abs":5.343},{"name":"acide","wn":1409,"abs":5.193},{"name":"acide","wn":1395,"abs":5.08},{"name":"acide","wn":1379,"abs":5.144},{"name":"acide","wn":1367,"abs":5.118},{"name":"acide","wn":1355,"abs":5.08},{"name":"acide","wn":1344,"abs":5.118},{"name":"acide","wn":1332,"abs":5.287},{"name":"acide","wn":1325,"abs":5.437},{"name":"acide","wn":1315,"abs":5.362},{"name":"acide","wn":1306,"abs":5.193},{"name":"acide","wn":1297,"abs":5.343},{"name":"acide","wn":1287,"abs":5.624},{"name":"acide","wn":1278,"abs":5.587},{"name":"acide","wn":1268,"abs":5.287},{"name":"acide","wn":1259,"abs":5.137},{"name":"acide","wn":1245,"abs":5.062},{"name":"acide","wn":1214,"abs":5.062},{"name":"acide","wn":1191,"abs":5.069},{"name":"acide","wn":1179,"abs":5.144},{"name":"acide","wn":1167,"abs":5.062},{"name":"acide","wn":1143,"abs":5.032},{"name":"acide","wn":1120,"abs":5.08},{"name":"acide","wn":1108,"abs":5.024},{"name":"acide","wn":1085,"abs":5.043},{"name":"acide","wn":1066,"abs":5.08},{"name":"acide","wn":1049,"abs":5.032},{"name":"acide","wn":1026,"abs":5.08},{"name":"acide","wn":1002,"abs":5.032},{"name":"acide","wn":967,"abs":5.08},{"name":"acide","wn":948,"abs":5.174},{"name":"acide","wn":939,"abs":5.268},{"name":"acide","wn":929,"abs":5.332},{"name":"acide","wn":920,"abs":5.268},{"name":"acide","wn":908,"abs":5.144},{"name":"acide","wn":897,"abs":5.069},{"name":"acide","wn":873,"abs":5.032},{"name":"acide","wn":826,"abs":5.032},{"name":"acide","wn":807,"abs":5.08},{"name":"acide","wn":798,"abs":5.099},{"name":"acide","wn":788,"abs":5.043},{"name":"acide","wn":767,"abs":5.032},{"name":"acide","wn":744,"abs":5.005},{"name":"acide","wn":727,"abs":5.024},{"name":"acide","wn":718,"abs":5.324},{"name":"acide","wn":708,"abs":5.587},{"name":"acide","wn":699,"abs":5.53},{"name":"acide","wn":689,"abs":5.099},{"name":"acide","wn":678,"abs":5.08},{"name":"acide","wn":666,"abs":5.129},{"name":"acide","wn":657,"abs":5.069},{"name":"acide","wn":642,"abs":5.043},{"name":"acide","wn":614,"abs":5.032},{"name":"acide","wn":579,"abs":5.024},{"name":"acide","wn":555,"abs":5.08},{"name":"acide","wn":539,"abs":5.107},{"name":"acide","wn":520,"abs":5.043},{"name":"acide","wn":496,"abs":5.024},{"name":"acide","wn":454,"abs":5.024},{"name":"acide","wn":438,"abs":4.987},{"name":"acide","wn":395,"abs":4.987},
{"name":"benzaldehyde","wn":3998,"abs":4.004},{"name":"benzaldehyde","wn":3673,"abs":4.004},{"name":"benzaldehyde","wn":3661,"abs":4.019},{"name":"benzaldehyde","wn":3402,"abs":4.019},{"name":"benzaldehyde","wn":3391,"abs":4.042},{"name":"benzaldehyde","wn":3379,"abs":4.019},{"name":"benzaldehyde","wn":3108,"abs":4.019},{"name":"benzaldehyde","wn":3097,"abs":4.049},{"name":"benzaldehyde","wn":3073,"abs":4.079},{"name":"benzaldehyde","wn":3049,"abs":4.087},{"name":"benzaldehyde","wn":3026,"abs":4.057},{"name":"benzaldehyde","wn":3002,"abs":4.031},{"name":"benzaldehyde","wn":2897,"abs":4.031},{"name":"benzaldehyde","wn":2873,"abs":4.068},{"name":"benzaldehyde","wn":2849,"abs":4.124},{"name":"benzaldehyde","wn":2831,"abs":4.181},{"name":"benzaldehyde","wn":2814,"abs":4.199},{"name":"benzaldehyde","wn":2802,"abs":4.154},{"name":"benzaldehyde","wn":2786,"abs":4.068},{"name":"benzaldehyde","wn":2767,"abs":4.087},{"name":"benzaldehyde","wn":2751,"abs":4.143},{"name":"benzaldehyde","wn":2737,"abs":4.181},{"name":"benzaldehyde","wn":2725,"abs":4.124},{"name":"benzaldehyde","wn":2708,"abs":4.049},{"name":"benzaldehyde","wn":2689,"abs":4.057},{"name":"benzaldehyde","wn":2673,"abs":4.019},{"name":"benzaldehyde","wn":2579,"abs":4.019},{"name":"benzaldehyde","wn":2567,"abs":4.004},{"name":"benzaldehyde","wn":2414,"abs":4.004},{"name":"benzaldehyde","wn":2402,"abs":4.031},{"name":"benzaldehyde","wn":2391,"abs":4.004},{"name":"benzaldehyde","wn":2038,"abs":4.004},{"name":"benzaldehyde","wn":2026,"abs":4.031},{"name":"benzaldehyde","wn":2002,"abs":4.031},{"name":"benzaldehyde","wn":1979,"abs":4.019},{"name":"benzaldehyde","wn":1944,"abs":4.019},{"name":"benzaldehyde","wn":1920,"abs":4.031},{"name":"benzaldehyde","wn":1897,"abs":4.012},{"name":"benzaldehyde","wn":1849,"abs":4.019},{"name":"benzaldehyde","wn":1826,"abs":4.031},{"name":"benzaldehyde","wn":1779,"abs":4.019},{"name":"benzaldehyde","wn":1755,"abs":4.031},{"name":"benzaldehyde","wn":1732,"abs":4.049},{"name":"benzaldehyde","wn":1720,"abs":4.199},{"name":"benzaldehyde","wn":1711,"abs":4.649},{"name":"benzaldehyde","wn":1704,"abs":4.837},{"name":"benzaldehyde","wn":1697,"abs":4.987},{"name":"benzaldehyde","wn":1689,"abs":4.949},{"name":"benzaldehyde","wn":1682,"abs":4.574},{"name":"benzaldehyde","wn":1673,"abs":4.237},{"name":"benzaldehyde","wn":1661,"abs":4.124},{"name":"benzaldehyde","wn":1649,"abs":4.154},{"name":"benzaldehyde","wn":1638,"abs":4.124},{"name":"benzaldehyde","wn":1626,"abs":4.049},{"name":"benzaldehyde","wn":1614,"abs":4.031},{"name":"benzaldehyde","wn":1602,"abs":4.143},{"name":"benzaldehyde","wn":1593,"abs":4.255},{"name":"benzaldehyde","wn":1584,"abs":4.293},{"name":"benzaldehyde","wn":1574,"abs":4.199},{"name":"benzaldehyde","wn":1565,"abs":4.049},{"name":"benzaldehyde","wn":1551,"abs":4.012},{"name":"benzaldehyde","wn":1485,"abs":4.012},{"name":"benzaldehyde","wn":1461,"abs":4.049},{"name":"benzaldehyde","wn":1452,"abs":4.162},{"name":"benzaldehyde","wn":1442,"abs":4.124},{"name":"benzaldehyde","wn":1433,"abs":4.031},{"name":"benzaldehyde","wn":1414,"abs":4.012},{"name":"benzaldehyde","wn":1398,"abs":4.019},{"name":"benzaldehyde","wn":1388,"abs":4.106},{"name":"benzaldehyde","wn":1379,"abs":4.031},{"name":"benzaldehyde","wn":1355,"abs":4.012},{"name":"benzaldehyde","wn":1332,"abs":4.019},{"name":"benzaldehyde","wn":1320,"abs":4.124},{"name":"benzaldehyde","wn":1308,"abs":4.181},{"name":"benzaldehyde","wn":1297,"abs":4.199},{"name":"benzaldehyde","wn":1285,"abs":4.049},{"name":"benzaldehyde","wn":1268,"abs":4.012},{"name":"benzaldehyde","wn":1249,"abs":4.012},{"name":"benzaldehyde","wn":1226,"abs":4.019},{"name":"benzaldehyde","wn":1209,"abs":4.124},{"name":"benzaldehyde","wn":1200,"abs":4.387},{"name":"benzaldehyde","wn":1193,"abs":4.462},{"name":"benzaldehyde","wn":1184,"abs":4.312},{"name":"benzaldehyde","wn":1174,"abs":4.068},{"name":"benzaldehyde","wn":1165,"abs":4.162},{"name":"benzaldehyde","wn":1158,"abs":4.199},{"name":"benzaldehyde","wn":1148,"abs":4.106},{"name":"benzaldehyde","wn":1132,"abs":4.019},{"name":"benzaldehyde","wn":1108,"abs":4.012},{"name":"benzaldehyde","wn":1085,"abs":4.019},{"name":"benzaldehyde","wn":1073,"abs":4.057},{"name":"benzaldehyde","wn":1061,"abs":4.068},{"name":"benzaldehyde","wn":1049,"abs":4.019},{"name":"benzaldehyde","wn":1033,"abs":4.031},{"name":"benzaldehyde","wn":1009,"abs":4.049},{"name":"benzaldehyde","wn":991,"abs":4.019},{"name":"benzaldehyde","wn":967,"abs":4.012},{"name":"benzaldehyde","wn":932,"abs":4.019},{"name":"benzaldehyde","wn":908,"abs":4.031},{"name":"benzaldehyde","wn":885,"abs":4.019},{"name":"benzaldehyde","wn":861,"abs":4.031},{"name":"benzaldehyde","wn":838,"abs":4.087},{"name":"benzaldehyde","wn":826,"abs":4.274},{"name":"benzaldehyde","wn":817,"abs":4.293},{"name":"benzaldehyde","wn":807,"abs":4.124},{"name":"benzaldehyde","wn":798,"abs":4.031},{"name":"benzaldehyde","wn":779,"abs":4.031},{"name":"benzaldehyde","wn":765,"abs":4.087},{"name":"benzaldehyde","wn":755,"abs":4.274},{"name":"benzaldehyde","wn":746,"abs":4.481},{"name":"benzaldehyde","wn":736,"abs":4.5},{"name":"benzaldehyde","wn":727,"abs":4.237},{"name":"benzaldehyde","wn":718,"abs":4.049},{"name":"benzaldehyde","wn":708,"abs":4.106},{"name":"benzaldehyde","wn":697,"abs":4.237},{"name":"benzaldehyde","wn":687,"abs":4.312},{"name":"benzaldehyde","wn":680,"abs":4.237},{"name":"benzaldehyde","wn":671,"abs":4.143},{"name":"benzaldehyde","wn":661,"abs":4.255},{"name":"benzaldehyde","wn":652,"abs":4.237},{"name":"benzaldehyde","wn":642,"abs":4.162},{"name":"benzaldehyde","wn":631,"abs":4.087},{"name":"benzaldehyde","wn":614,"abs":4.019},{"name":"benzaldehyde","wn":590,"abs":4.004},{"name":"benzaldehyde","wn":454,"abs":4.004},{"name":"benzaldehyde","wn":445,"abs":4.087},{"name":"benzaldehyde","wn":435,"abs":4.019},{"name":"benzaldehyde","wn":414,"abs":4.004},{"name":"benzaldehyde","wn":395,"abs":4.004},
{"name":"acetophenone","wn":3998,"abs":3.007},{"name":"acetophenone","wn":3673,"abs":3.007},{"name":"acetophenone","wn":3661,"abs":3.029},{"name":"acetophenone","wn":3645,"abs":3.007},{"name":"acetophenone","wn":3631,"abs":3.029},{"name":"acetophenone","wn":3485,"abs":3.029},{"name":"acetophenone","wn":3473,"abs":3.007},{"name":"acetophenone","wn":3379,"abs":3.007},{"name":"acetophenone","wn":3367,"abs":3.044},{"name":"acetophenone","wn":3348,"abs":3.055},{"name":"acetophenone","wn":3332,"abs":3.029},{"name":"acetophenone","wn":3320,"abs":3.007},{"name":"acetophenone","wn":3144,"abs":3.007},{"name":"acetophenone","wn":3132,"abs":3.029},{"name":"acetophenone","wn":3108,"abs":3.044},{"name":"acetophenone","wn":3089,"abs":3.074},{"name":"acetophenone","wn":3073,"abs":3.13},{"name":"acetophenone","wn":3061,"abs":3.168},{"name":"acetophenone","wn":3049,"abs":3.13},{"name":"acetophenone","wn":3038,"abs":3.112},{"name":"acetophenone","wn":3026,"abs":3.13},{"name":"acetophenone","wn":3014,"abs":3.093},{"name":"acetophenone","wn":3002,"abs":3.119},{"name":"acetophenone","wn":2986,"abs":3.067},{"name":"acetophenone","wn":2972,"abs":3.037},{"name":"acetophenone","wn":2955,"abs":3.067},{"name":"acetophenone","wn":2939,"abs":3.029},{"name":"acetophenone","wn":2925,"abs":3.044},{"name":"acetophenone","wn":2908,"abs":3.018},{"name":"acetophenone","wn":2892,"abs":3.029},{"name":"acetophenone","wn":2873,"abs":3.007},{"name":"acetophenone","wn":2861,"abs":3.029},{"name":"acetophenone","wn":2845,"abs":3.007},{"name":"acetophenone","wn":2002,"abs":3.007},{"name":"acetophenone","wn":1991,"abs":3.029},{"name":"acetophenone","wn":1920,"abs":3.029},{"name":"acetophenone","wn":1908,"abs":3.007},{"name":"acetophenone","wn":1897,"abs":3.029},{"name":"acetophenone","wn":1885,"abs":3.007},{"name":"acetophenone","wn":1838,"abs":3.007},{"name":"acetophenone","wn":1826,"abs":3.029},{"name":"acetophenone","wn":1791,"abs":3.029},{"name":"acetophenone","wn":1779,"abs":3.007},{"name":"acetophenone","wn":1755,"abs":3.029},{"name":"acetophenone","wn":1732,"abs":3.067},{"name":"acetophenone","wn":1708,"abs":3.149},{"name":"acetophenone","wn":1697,"abs":3.374},{"name":"acetophenone","wn":1689,"abs":3.674},{"name":"acetophenone","wn":1682,"abs":3.899},{"name":"acetophenone","wn":1675,"abs":3.993},{"name":"acetophenone","wn":1668,"abs":3.862},{"name":"acetophenone","wn":1661,"abs":3.487},{"name":"acetophenone","wn":1649,"abs":3.187},{"name":"acetophenone","wn":1631,"abs":3.13},{"name":"acetophenone","wn":1614,"abs":3.112},{"name":"acetophenone","wn":1602,"abs":3.194},{"name":"acetophenone","wn":1591,"abs":3.299},{"name":"acetophenone","wn":1579,"abs":3.243},{"name":"acetophenone","wn":1572,"abs":3.13},{"name":"acetophenone","wn":1560,"abs":3.055},{"name":"acetophenone","wn":1536,"abs":3.044},{"name":"acetophenone","wn":1508,"abs":3.029},{"name":"acetophenone","wn":1485,"abs":3.029},{"name":"acetophenone","wn":1466,"abs":3.074},{"name":"acetophenone","wn":1454,"abs":3.224},{"name":"acetophenone","wn":1445,"abs":3.337},{"name":"acetophenone","wn":1435,"abs":3.299},{"name":"acetophenone","wn":1426,"abs":3.28},{"name":"acetophenone","wn":1419,"abs":3.205},{"name":"acetophenone","wn":1407,"abs":3.112},{"name":"acetophenone","wn":1391,"abs":3.093},{"name":"acetophenone","wn":1379,"abs":3.149},{"name":"acetophenone","wn":1367,"abs":3.374},{"name":"acetophenone","wn":1360,"abs":3.562},{"name":"acetophenone","wn":1353,"abs":3.562},{"name":"acetophenone","wn":1344,"abs":3.224},{"name":"acetophenone","wn":1332,"abs":3.093},{"name":"acetophenone","wn":1320,"abs":3.074},{"name":"acetophenone","wn":1308,"abs":3.13},{"name":"acetophenone","wn":1297,"abs":3.179},{"name":"acetophenone","wn":1285,"abs":3.149},{"name":"acetophenone","wn":1278,"abs":3.299},{"name":"acetophenone","wn":1268,"abs":3.599},{"name":"acetophenone","wn":1259,"abs":3.88},{"name":"acetophenone","wn":1249,"abs":3.824},{"name":"acetophenone","wn":1240,"abs":3.487},{"name":"acetophenone","wn":1231,"abs":3.187},{"name":"acetophenone","wn":1214,"abs":3.067},{"name":"acetophenone","wn":1198,"abs":3.055},{"name":"acetophenone","wn":1184,"abs":3.112},{"name":"acetophenone","wn":1172,"abs":3.157},{"name":"acetophenone","wn":1160,"abs":3.112},{"name":"acetophenone","wn":1143,"abs":3.067},{"name":"acetophenone","wn":1120,"abs":3.018},{"name":"acetophenone","wn":1096,"abs":3.044},{"name":"acetophenone","wn":1085,"abs":3.093},{"name":"acetophenone","wn":1073,"abs":3.119},{"name":"acetophenone","wn":1061,"abs":3.074},{"name":"acetophenone","wn":1049,"abs":3.029},{"name":"acetophenone","wn":1038,"abs":3.044},{"name":"acetophenone","wn":1019,"abs":3.13},{"name":"acetophenone","wn":1009,"abs":3.142},{"name":"acetophenone","wn":1000,"abs":3.093},{"name":"acetophenone","wn":986,"abs":3.044},{"name":"acetophenone","wn":967,"abs":3.093},{"name":"acetophenone","wn":955,"abs":3.224},{"name":"acetophenone","wn":946,"abs":3.299},{"name":"acetophenone","wn":936,"abs":3.168},{"name":"acetophenone","wn":925,"abs":3.055},{"name":"acetophenone","wn":908,"abs":3.018},{"name":"acetophenone","wn":897,"abs":3.007},{"name":"acetophenone","wn":791,"abs":3.007},{"name":"acetophenone","wn":774,"abs":3.112},{"name":"acetophenone","wn":765,"abs":3.374},{"name":"acetophenone","wn":755,"abs":3.543},{"name":"acetophenone","wn":746,"abs":3.487},{"name":"acetophenone","wn":739,"abs":3.187},{"name":"acetophenone","wn":732,"abs":3.037},{"name":"acetophenone","wn":722,"abs":3.055},{"name":"acetophenone","wn":713,"abs":3.029},{"name":"acetophenone","wn":704,"abs":3.112},{"name":"acetophenone","wn":694,"abs":3.374},{"name":"acetophenone","wn":685,"abs":3.494},{"name":"acetophenone","wn":678,"abs":3.412},{"name":"acetophenone","wn":668,"abs":3.149},{"name":"acetophenone","wn":657,"abs":3.018},{"name":"acetophenone","wn":602,"abs":3.007},{"name":"acetophenone","wn":590,"abs":3.149},{"name":"acetophenone","wn":583,"abs":3.412},{"name":"acetophenone","wn":576,"abs":3.457},{"name":"acetophenone","wn":569,"abs":3.299},{"name":"acetophenone","wn":558,"abs":3.018},{"name":"acetophenone","wn":544,"abs":3.007},{"name":"acetophenone","wn":449,"abs":3.007},{"name":"acetophenone","wn":438,"abs":2.992},{"name":"acetophenone","wn":395,"abs":2.992},
{"name":"phenol","wn":3998,"abs":2.017},{"name":"phenol","wn":3814,"abs":2.017},{"name":"phenol","wn":3802,"abs":2.006},{"name":"phenol","wn":3697,"abs":2.006},{"name":"phenol","wn":3685,"abs":2.032},{"name":"phenol","wn":3638,"abs":2.032},{"name":"phenol","wn":3621,"abs":2.08},{"name":"phenol","wn":3607,"abs":2.174},{"name":"phenol","wn":3591,"abs":2.287},{"name":"phenol","wn":3574,"abs":2.399},{"name":"phenol","wn":3555,"abs":2.512},{"name":"phenol","wn":3537,"abs":2.587},{"name":"phenol","wn":3513,"abs":2.624},{"name":"phenol","wn":3485,"abs":2.624},{"name":"phenol","wn":3461,"abs":2.643},{"name":"phenol","wn":3442,"abs":2.68},{"name":"phenol","wn":3419,"abs":2.718},{"name":"phenol","wn":3395,"abs":2.744},{"name":"phenol","wn":3367,"abs":2.755},{"name":"phenol","wn":3344,"abs":2.737},{"name":"phenol","wn":3320,"abs":2.718},{"name":"phenol","wn":3297,"abs":2.68},{"name":"phenol","wn":3273,"abs":2.632},{"name":"phenol","wn":3238,"abs":2.549},{"name":"phenol","wn":3202,"abs":2.455},{"name":"phenol","wn":3167,"abs":2.362},{"name":"phenol","wn":3144,"abs":2.287},{"name":"phenol","wn":3120,"abs":2.231},{"name":"phenol","wn":3104,"abs":2.257},{"name":"phenol","wn":3085,"abs":2.249},{"name":"phenol","wn":3066,"abs":2.279},{"name":"phenol","wn":3054,"abs":2.257},{"name":"phenol","wn":3042,"abs":2.343},{"name":"phenol","wn":3033,"abs":2.305},{"name":"phenol","wn":3021,"abs":2.212},{"name":"phenol","wn":3009,"abs":2.137},{"name":"phenol","wn":2991,"abs":2.099},{"name":"phenol","wn":2967,"abs":2.107},{"name":"phenol","wn":2944,"abs":2.08},{"name":"phenol","wn":2920,"abs":2.069},{"name":"phenol","wn":2885,"abs":2.069},{"name":"phenol","wn":2826,"abs":2.062},{"name":"phenol","wn":2755,"abs":2.062},{"name":"phenol","wn":2697,"abs":2.054},{"name":"phenol","wn":2614,"abs":2.069},{"name":"phenol","wn":2544,"abs":2.054},{"name":"phenol","wn":2473,"abs":2.062},{"name":"phenol","wn":2449,"abs":2.054},{"name":"phenol","wn":2355,"abs":2.043},{"name":"phenol","wn":2285,"abs":2.006},{"name":"phenol","wn":2097,"abs":2.006},{"name":"phenol","wn":2085,"abs":2.017},{"name":"phenol","wn":1932,"abs":2.024},{"name":"phenol","wn":1920,"abs":2.062},{"name":"phenol","wn":1908,"abs":2.043},{"name":"phenol","wn":1897,"abs":2.017},{"name":"phenol","wn":1873,"abs":2.043},{"name":"phenol","wn":1849,"abs":2.024},{"name":"phenol","wn":1814,"abs":2.032},{"name":"phenol","wn":1767,"abs":2.032},{"name":"phenol","wn":1755,"abs":2.062},{"name":"phenol","wn":1732,"abs":2.024},{"name":"phenol","wn":1708,"abs":2.043},{"name":"phenol","wn":1697,"abs":2.08},{"name":"phenol","wn":1685,"abs":2.024},{"name":"phenol","wn":1638,"abs":2.024},{"name":"phenol","wn":1626,"abs":2.099},{"name":"phenol","wn":1614,"abs":2.362},{"name":"phenol","wn":1602,"abs":2.812},{"name":"phenol","wn":1593,"abs":3.018},{"name":"phenol","wn":1584,"abs":2.924},{"name":"phenol","wn":1574,"abs":2.399},{"name":"phenol","wn":1565,"abs":2.156},{"name":"phenol","wn":1544,"abs":2.08},{"name":"phenol","wn":1520,"abs":2.137},{"name":"phenol","wn":1508,"abs":2.399},{"name":"phenol","wn":1499,"abs":2.812},{"name":"phenol","wn":1489,"abs":2.83},{"name":"phenol","wn":1482,"abs":2.643},{"name":"phenol","wn":1475,"abs":2.774},{"name":"phenol","wn":1468,"abs":2.849},{"name":"phenol","wn":1461,"abs":2.699},{"name":"phenol","wn":1452,"abs":2.287},{"name":"phenol","wn":1438,"abs":2.118},{"name":"phenol","wn":1414,"abs":2.099},{"name":"phenol","wn":1395,"abs":2.212},{"name":"phenol","wn":1379,"abs":2.399},{"name":"phenol","wn":1367,"abs":2.474},{"name":"phenol","wn":1355,"abs":2.455},{"name":"phenol","wn":1344,"abs":2.362},{"name":"phenol","wn":1325,"abs":2.174},{"name":"phenol","wn":1301,"abs":2.118},{"name":"phenol","wn":1285,"abs":2.129},{"name":"phenol","wn":1261,"abs":2.399},{"name":"phenol","wn":1249,"abs":2.587},{"name":"phenol","wn":1238,"abs":2.774},{"name":"phenol","wn":1226,"abs":2.886},{"name":"phenol","wn":1214,"abs":2.943},{"name":"phenol","wn":1202,"abs":2.905},{"name":"phenol","wn":1191,"abs":2.812},{"name":"phenol","wn":1174,"abs":2.737},{"name":"phenol","wn":1155,"abs":2.549},{"name":"phenol","wn":1132,"abs":2.324},{"name":"phenol","wn":1108,"abs":2.137},{"name":"phenol","wn":1089,"abs":2.062},{"name":"phenol","wn":1073,"abs":2.099},{"name":"phenol","wn":1061,"abs":2.268},{"name":"phenol","wn":1052,"abs":2.193},{"name":"phenol","wn":1042,"abs":2.024},{"name":"phenol","wn":1028,"abs":2.062},{"name":"phenol","wn":1014,"abs":2.156},{"name":"phenol","wn":1002,"abs":2.099},{"name":"phenol","wn":991,"abs":2.024},{"name":"phenol","wn":967,"abs":2.006},{"name":"phenol","wn":908,"abs":2.006},{"name":"phenol","wn":892,"abs":2.08},{"name":"phenol","wn":878,"abs":2.219},{"name":"phenol","wn":868,"abs":2.137},{"name":"phenol","wn":854,"abs":2.043},{"name":"phenol","wn":840,"abs":2.099},{"name":"phenol","wn":826,"abs":2.362},{"name":"phenol","wn":814,"abs":2.474},{"name":"phenol","wn":805,"abs":2.512},{"name":"phenol","wn":798,"abs":2.399},{"name":"phenol","wn":788,"abs":2.174},{"name":"phenol","wn":774,"abs":2.118},{"name":"phenol","wn":765,"abs":2.287},{"name":"phenol","wn":755,"abs":2.699},{"name":"phenol","wn":746,"abs":2.943},{"name":"phenol","wn":736,"abs":2.774},{"name":"phenol","wn":725,"abs":2.182},{"name":"phenol","wn":708,"abs":2.174},{"name":"phenol","wn":699,"abs":2.437},{"name":"phenol","wn":689,"abs":2.669},{"name":"phenol","wn":680,"abs":2.512},{"name":"phenol","wn":668,"abs":2.212},{"name":"phenol","wn":649,"abs":2.193},{"name":"phenol","wn":614,"abs":2.186},{"name":"phenol","wn":579,"abs":2.156},{"name":"phenol","wn":544,"abs":2.144},{"name":"phenol","wn":520,"abs":2.212},{"name":"phenol","wn":508,"abs":2.249},{"name":"phenol","wn":496,"abs":2.418},{"name":"phenol","wn":487,"abs":2.399},{"name":"phenol","wn":477,"abs":2.212},{"name":"phenol","wn":461,"abs":2.118},{"name":"phenol","wn":445,"abs":2.118},{"name":"phenol","wn":426,"abs":2.024},{"name":"phenol","wn":395,"abs":2.017},
{"name":"toluene","wn":3998,"abs":1.005},{"name":"toluene","wn":3144,"abs":1.005},{"name":"toluene","wn":3127,"abs":1.031},{"name":"toluene","wn":3113,"abs":1.088},{"name":"toluene","wn":3097,"abs":1.163},{"name":"toluene","wn":3085,"abs":1.294},{"name":"toluene","wn":3073,"abs":1.331},{"name":"toluene","wn":3061,"abs":1.313},{"name":"toluene","wn":3052,"abs":1.406},{"name":"toluene","wn":3042,"abs":1.388},{"name":"toluene","wn":3033,"abs":1.5},{"name":"toluene","wn":3024,"abs":1.65},{"name":"toluene","wn":3014,"abs":1.538},{"name":"toluene","wn":3005,"abs":1.35},{"name":"toluene","wn":2991,"abs":1.275},{"name":"toluene","wn":2967,"abs":1.275},{"name":"toluene","wn":2948,"abs":1.313},{"name":"toluene","wn":2932,"abs":1.369},{"name":"toluene","wn":2920,"abs":1.444},{"name":"toluene","wn":2908,"abs":1.313},{"name":"toluene","wn":2897,"abs":1.2},{"name":"toluene","wn":2885,"abs":1.238},{"name":"toluene","wn":2873,"abs":1.283},{"name":"toluene","wn":2859,"abs":1.256},{"name":"toluene","wn":2845,"abs":1.125},{"name":"toluene","wn":2826,"abs":1.031},{"name":"toluene","wn":2802,"abs":1.013},{"name":"toluene","wn":2779,"abs":1.005},{"name":"toluene","wn":2751,"abs":1.005},{"name":"toluene","wn":2737,"abs":1.031},{"name":"toluene","wn":2720,"abs":1.02},{"name":"toluene","wn":2708,"abs":1.005},{"name":"toluene","wn":1967,"abs":1.005},{"name":"toluene","wn":1951,"abs":1.05},{"name":"toluene","wn":1939,"abs":1.106},{"name":"toluene","wn":1927,"abs":1.058},{"name":"toluene","wn":1908,"abs":1.005},{"name":"toluene","wn":1885,"abs":1.005},{"name":"toluene","wn":1861,"abs":1.058},{"name":"toluene","wn":1847,"abs":1.08},{"name":"toluene","wn":1831,"abs":1.031},{"name":"toluene","wn":1819,"abs":1.005},{"name":"toluene","wn":1809,"abs":1.043},{"name":"toluene","wn":1795,"abs":1.08},{"name":"toluene","wn":1779,"abs":1.031},{"name":"toluene","wn":1767,"abs":1.005},{"name":"toluene","wn":1732,"abs":1.005},{"name":"toluene","wn":1725,"abs":1.031},{"name":"toluene","wn":1715,"abs":1.005},{"name":"toluene","wn":1638,"abs":1.005},{"name":"toluene","wn":1621,"abs":1.043},{"name":"toluene","wn":1607,"abs":1.163},{"name":"toluene","wn":1595,"abs":1.256},{"name":"toluene","wn":1588,"abs":1.163},{"name":"toluene","wn":1579,"abs":1.069},{"name":"toluene","wn":1555,"abs":1.058},{"name":"toluene","wn":1532,"abs":1.058},{"name":"toluene","wn":1520,"abs":1.118},{"name":"toluene","wn":1508,"abs":1.144},{"name":"toluene","wn":1499,"abs":1.369},{"name":"toluene","wn":1489,"abs":1.538},{"name":"toluene","wn":1482,"abs":1.463},{"name":"toluene","wn":1475,"abs":1.275},{"name":"toluene","wn":1468,"abs":1.208},{"name":"toluene","wn":1461,"abs":1.331},{"name":"toluene","wn":1452,"abs":1.369},{"name":"toluene","wn":1442,"abs":1.275},{"name":"toluene","wn":1433,"abs":1.125},{"name":"toluene","wn":1414,"abs":1.069},{"name":"toluene","wn":1398,"abs":1.058},{"name":"toluene","wn":1386,"abs":1.106},{"name":"toluene","wn":1379,"abs":1.144},{"name":"toluene","wn":1367,"abs":1.106},{"name":"toluene","wn":1355,"abs":1.043},{"name":"toluene","wn":1332,"abs":1.013},{"name":"toluene","wn":1297,"abs":1.013},{"name":"toluene","wn":1226,"abs":1.005},{"name":"toluene","wn":1207,"abs":1.02},{"name":"toluene","wn":1198,"abs":1.031},{"name":"toluene","wn":1191,"abs":1.02},{"name":"toluene","wn":1179,"abs":1.05},{"name":"toluene","wn":1169,"abs":1.088},{"name":"toluene","wn":1160,"abs":1.043},{"name":"toluene","wn":1151,"abs":1.058},{"name":"toluene","wn":1141,"abs":1.031},{"name":"toluene","wn":1132,"abs":1.043},{"name":"toluene","wn":1120,"abs":1.031},{"name":"toluene","wn":1108,"abs":1.069},{"name":"toluene","wn":1096,"abs":1.125},{"name":"toluene","wn":1085,"abs":1.2},{"name":"toluene","wn":1075,"abs":1.23},{"name":"toluene","wn":1066,"abs":1.125},{"name":"toluene","wn":1056,"abs":1.069},{"name":"toluene","wn":1047,"abs":1.144},{"name":"toluene","wn":1038,"abs":1.208},{"name":"toluene","wn":1028,"abs":1.23},{"name":"toluene","wn":1019,"abs":1.125},{"name":"toluene","wn":1009,"abs":1.069},{"name":"toluene","wn":991,"abs":1.043},{"name":"toluene","wn":955,"abs":1.031},{"name":"toluene","wn":932,"abs":1.02},{"name":"toluene","wn":913,"abs":1.013},{"name":"toluene","wn":897,"abs":1.043},{"name":"toluene","wn":885,"abs":1.02},{"name":"toluene","wn":861,"abs":1.013},{"name":"toluene","wn":845,"abs":1.043},{"name":"toluene","wn":831,"abs":1.013},{"name":"toluene","wn":802,"abs":1.013},{"name":"toluene","wn":784,"abs":1.031},{"name":"toluene","wn":774,"abs":1.058},{"name":"toluene","wn":765,"abs":1.043},{"name":"toluene","wn":755,"abs":1.088},{"name":"toluene","wn":744,"abs":1.463},{"name":"toluene","wn":736,"abs":1.8},{"name":"toluene","wn":727,"abs":1.988},{"name":"toluene","wn":720,"abs":1.95},{"name":"toluene","wn":713,"abs":1.463},{"name":"toluene","wn":706,"abs":1.125},{"name":"toluene","wn":699,"abs":1.388},{"name":"toluene","wn":692,"abs":1.65},{"name":"toluene","wn":685,"abs":1.613},{"name":"toluene","wn":678,"abs":1.275},{"name":"toluene","wn":668,"abs":1.088},{"name":"toluene","wn":657,"abs":1.02},{"name":"toluene","wn":638,"abs":1.005},{"name":"toluene","wn":520,"abs":1.005},{"name":"toluene","wn":508,"abs":1.02},{"name":"toluene","wn":485,"abs":1.02},{"name":"toluene","wn":468,"abs":1.043},{"name":"toluene","wn":461,"abs":1.275},{"name":"toluene","wn":454,"abs":1.444},{"name":"toluene","wn":447,"abs":1.463},{"name":"toluene","wn":440,"abs":1.238},{"name":"toluene","wn":433,"abs":1.013},{"name":"toluene","wn":426,"abs":0.983},{"name":"toluene","wn":395,"abs":0.983},
{"name":"methyl","wn":3998,"abs":0},{"name":"methyl","wn":3002,"abs":0},{"name":"methyl","wn":2991,"abs":0.049},{"name":"methyl","wn":2979,"abs":0.161},{"name":"methyl","wn":2967,"abs":0.424},{"name":"methyl","wn":2955,"abs":0.686},{"name":"methyl","wn":2944,"abs":0.911},{"name":"methyl","wn":2934,"abs":1.016},{"name":"methyl","wn":2925,"abs":0.911},{"name":"methyl","wn":2915,"abs":0.611},{"name":"methyl","wn":2906,"abs":0.386},{"name":"methyl","wn":2897,"abs":0.236},{"name":"methyl","wn":2887,"abs":0.206},{"name":"methyl","wn":2878,"abs":0.274},{"name":"methyl","wn":2868,"abs":0.33},{"name":"methyl","wn":2859,"abs":0.341},{"name":"methyl","wn":2849,"abs":0.236},{"name":"methyl","wn":2840,"abs":0.086},{"name":"methyl","wn":2826,"abs":0.03},{"name":"methyl","wn":2791,"abs":0.03},{"name":"methyl","wn":2779,"abs":0},{"name":"methyl","wn":2697,"abs":0},{"name":"methyl","wn":2689,"abs":0.03},{"name":"methyl","wn":2657,"abs":0.03},{"name":"methyl","wn":2647,"abs":0},{"name":"methyl","wn":1497,"abs":0},{"name":"methyl","wn":1480,"abs":0.03},{"name":"methyl","wn":1466,"abs":0.086},{"name":"methyl","wn":1454,"abs":0.124},{"name":"methyl","wn":1445,"abs":0.086},{"name":"methyl","wn":1433,"abs":0.011},{"name":"methyl","wn":1419,"abs":0.019},{"name":"methyl","wn":1402,"abs":0.019},{"name":"methyl","wn":1391,"abs":0},{"name":"methyl","wn":1268,"abs":0},{"name":"methyl","wn":1259,"abs":0.022},{"name":"methyl","wn":1249,"abs":0},{"name":"methyl","wn":972,"abs":0},{"name":"methyl","wn":962,"abs":0.026},{"name":"methyl","wn":953,"abs":0},{"name":"methyl","wn":395,"abs":0}
]
},
"layer":[
{
"data":{"values":[{}]},
"mark":{"type":"rect","filled":false,"stroke":"black","strokeWidth":1.5},
"encoding":{
"x":{"datum":4430,"type":"quantitative","scale":{"domain":[400,4000],"reverse":true,"nice":false,"zero":false}},
"x2":{"datum":255},
"y":{"datum":12.24,"type":"quantitative","scale":{"domain":[0,12],"nice":false,"zero":false}},
"y2":{"datum":-1.44}
}
},
{
"data":{"name":"labels"},
"mark":{"type":"rect","fill":"white","yOffset":-39,"y2Offset":13},
"encoding":{
"x":{"datum":4050,"type":"quantitative"},
"x2":{"datum":3975},
"y":{"field":"abs","type":"quantitative"},
"y2":{"field":"abs"}
}
},
{
"data":{"name":"spectra"},
"mark":{"type":"line","strokeWidth":2,"clip":false},
"encoding":{
"x":{"field":"wn","type":"quantitative","scale":{"domain":[400,4000],"reverse":true,"nice":false,"zero":false},
"axis":{"title":"Nombre d'onde (cm-1)","values":[3900,3400,2900,2400,1900,1400,900,400],"format":"d","grid":false,"labelFlush":false,"labelOverlap":false,"labelFont":"Liberation Sans","labelFontSize":28,"labelColor":"black","labelPadding":20,"tickSize":11,"tickColor":"#404040","domainColor":"#404040","titleFont":"Liberation Sans","titleFontSize":28,"titleFontWeight":"bold","titleColor":"black","titleY":107,"titleBaseline":"alphabetic"}},
"y":{"field":"abs","type":"quantitative","scale":{"domain":[0,12],"nice":false,"zero":false},
"axis":{"title":null,"values":[0,2,4,6,8,10,12],"labels":false,"grid":false,"tickSize":10,"tickColor":"#404040","domainColor":"#404040"}},
"color":{"field":"name","type":"nominal","legend":null,
"scale":{"domain":["sulfone","isocyanate","benzamide","aniline","ethylbenzoate","sel","acide","benzaldehyde","acetophenone","phenol","toluene","methyl"],
"range":["#FF8080","#FF00FF","#CC99FF","#00FF00","#FF9900","#00FFFF","#99CC00","#FF6600","#0000FF","#008000","#FF0000","#000080"]}}
}
},
{
"data":{"name":"labels"},
"mark":{"type":"text","align":"left","baseline":"alphabetic","font":"Liberation Serif","color":"black"},
"encoding":{
"x":{"field":"wn","type":"quantitative"},
"y":{"field":"abs","type":"quantitative"},
"text":{"field":"name"},
"size":{"condition":{"test":"datum.name === 'Methyl cyclohéxane'","value":29},"value":32}
}
},
{
"data":{"name":"labels"},
"transform":[{"filter":{"field":"name","oneOf":["Phenyl sulfone","Phenyl isocyanate"]}}],
"mark":{"type":"rect","fill":"white","yOffset":2,"y2Offset":14,"x2Offset":250},
"encoding":{
"x":{"field":"wn","type":"quantitative"},
"x2":{"field":"wn"},
"y":{"field":"abs","type":"quantitative"},
"y2":{"field":"abs"}
}
},
{
"data":{"name":"labels"},
"transform":[{"filter":{"field":"name","equal":"Acide benzoïque"}}],
"mark":{"type":"rect","fill":"white","yOffset":-3,"y2Offset":10,"x2Offset":230},
"encoding":{
"x":{"field":"wn","type":"quantitative"},
"x2":{"field":"wn"},
"y":{"field":"abs","type":"quantitative"},
"y2":{"field":"abs"}
}
}
]
}
